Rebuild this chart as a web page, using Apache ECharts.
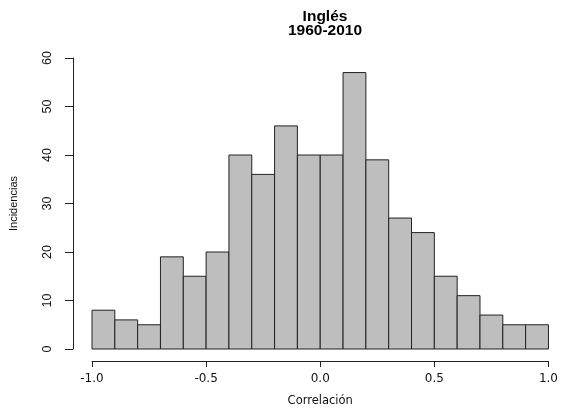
<!DOCTYPE html>
<html>
<head>
<meta charset="utf-8">
<script src="https://cdn.jsdelivr.net/npm/echarts@6/dist/echarts.min.js"></script>
<style>html,body{margin:0;padding:0;background:#fff;}#c{width:561px;height:419px;}</style>
</head>
<body>
<div id="c"></div>
<script>
const titleText = 'Inglés\n1960-2010';
const xName = 'Correlación';
const yName = 'Incidencias';
const breaks = [-1.0,-0.9,-0.8,-0.7,-0.6,-0.5,-0.4,-0.3,-0.2,-0.1,0.0,0.1,0.2,0.3,0.4,0.5,0.6,0.7,0.8,0.9,1.0];
const counts = [8,6,5,19,15,20,40,36,46,40,40,57,39,27,24,15,11,7,5,5];
const xTicks = [-1.0,-0.5,0.0,0.5,1.0];
const yTicks = [0,10,20,30,40,50,60];

const data = counts.map((c,i)=>[breaks[i], breaks[i+1], c]);
const chart = echarts.init(document.getElementById('c'), null, {renderer:'canvas'});
chart.setOption({
  animation:false,
  backgroundColor:'#fff',
  title:{
    text:titleText, left:320, top:5, textAlign:'center',
    textStyle:{fontFamily:'Liberation Sans', fontWeight:'bold', fontSize:15.5, lineHeight:14, color:'#000'}
  },
  grid:{left:89, right:10, top:58, bottom:70, containLabel:false},
  xAxis:{
    type:'value', min:-1, max:1, interval:0.5, offset:12,
    name:xName, nameLocation:'middle', nameGap:34,
    nameTextStyle:{fontFamily:'DejaVu Sans', fontSize:11.5, color:'#111'},
    axisLine:{show:true, onZero:false, lineStyle:{color:'#222', width:1}},
    axisTick:{show:true, length:6, lineStyle:{color:'#222'}},
    axisLabel:{fontFamily:'DejaVu Sans', fontSize:12, color:'#111', margin:12,
      formatter:v=>xTicks.includes(+v.toFixed(1)) ? v.toFixed(1) : ''},
    splitLine:{show:false}
  },
  yAxis:{
    type:'value', min:0, max:60, interval:10, offset:19,
    name:yName, nameLocation:'middle', nameGap:54,
    nameTextStyle:{fontFamily:'Liberation Sans', fontSize:11, color:'#111'},
    axisLine:{show:true, onZero:false, lineStyle:{color:'#222', width:1}},
    axisTick:{show:true, length:8, lineStyle:{color:'#222'}},
    axisLabel:{rotate:90, fontFamily:'Liberation Sans', fontSize:12.5, color:'#111', margin:19,
      formatter:v=>yTicks.includes(v) ? String(v) : ''},
    splitLine:{show:false}
  },
  series:[{
    type:'custom',
    data:data,
    encode:{x:[0,1], y:2},
    renderItem:function(params, api){
      const p0 = api.coord([api.value(0), api.value(2)]);
      const p1 = api.coord([api.value(1), 0]);
      return {
        type:'rect',
        shape:{x:p0[0], y:p0[1], width:p1[0]-p0[0], height:p1[1]-p0[1]},
        style:{fill:'#bebebe', stroke:'#222', lineWidth:1}
      };
    }
  }]
});
</script>
</body>
</html>
